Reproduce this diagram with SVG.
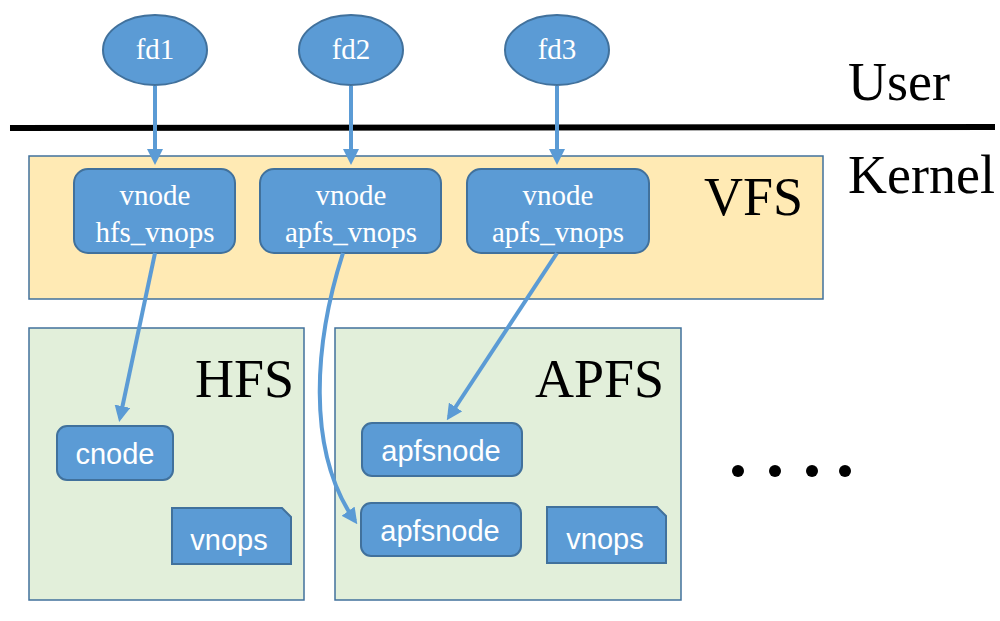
<svg xmlns="http://www.w3.org/2000/svg" width="1000" height="621" viewBox="0 0 1000 621">
<defs>
<marker id="ah" markerWidth="4" markerHeight="4" refX="3" refY="2" orient="auto" markerUnits="strokeWidth">
<path d="M0,0 L4,2 L0,4 Z" fill="#5B9BD5"/>
</marker>
<style>
.node{fill:#5B9BD5;stroke:#41719C;stroke-width:2}
.serif{font-family:"Liberation Serif","Times New Roman",serif;fill:#fff;text-anchor:middle;font-size:29px}
.sans{font-family:"Liberation Sans",Arial,sans-serif;fill:#fff;text-anchor:middle;font-size:29px}
.big{font-family:"Liberation Serif","Times New Roman",serif;fill:#000;font-size:54px}
.conn{fill:none;stroke:#5B9BD5;stroke-width:4;marker-end:url(#ah)}
</style>
</defs>
<rect width="1000" height="621" fill="#fff"/>
<g id="user-label"><text class="big" x="848" y="100">User</text></g>
<g id="kernel-label"><text class="big" x="848" y="193">Kernel</text></g>
<line x1="10" y1="128" x2="995" y2="127" stroke="#000" stroke-width="6"/>
<g id="vfs">
<rect x="29" y="156" width="794" height="143" fill="#FFEAB4" stroke="#41719C" stroke-width="1.5"/>
<text class="big" x="704" y="215" font-size="56">VFS</text>
</g>
<g id="hfs">
<rect x="29" y="328" width="275" height="272" fill="#E2EFDA" stroke="#41719C" stroke-width="1.5"/>
<text class="big" x="195" y="397">HFS</text>
</g>
<g id="apfs">
<rect x="335" y="328" width="346" height="272" fill="#E2EFDA" stroke="#41719C" stroke-width="1.5"/>
<text class="big" x="535" y="397">APFS</text>
</g>
<g id="fd1"><ellipse class="node" cx="155" cy="50" rx="52" ry="35"/><text class="serif" x="155" y="59" font-size="28">fd1</text></g>
<g id="fd2"><ellipse class="node" cx="351" cy="50" rx="52" ry="35"/><text class="serif" x="351" y="59" font-size="28">fd2</text></g>
<g id="fd3"><ellipse class="node" cx="557" cy="50" rx="52" ry="35"/><text class="serif" x="557" y="59" font-size="28">fd3</text></g>
<g id="vnode1"><rect class="node" x="74" y="169" width="161" height="84" rx="14"/><text class="serif" x="155" y="205">vnode</text><text class="serif" x="155" y="242">hfs_vnops</text></g>
<g id="vnode2"><rect class="node" x="260" y="169" width="181" height="84" rx="14"/><text class="serif" x="351" y="205">vnode</text><text class="serif" x="351" y="242">apfs_vnops</text></g>
<g id="vnode3"><rect class="node" x="467" y="169" width="182" height="84" rx="14"/><text class="serif" x="558" y="205">vnode</text><text class="serif" x="558" y="242">apfs_vnops</text></g>
<g id="cnode"><rect class="node" x="57" y="426" width="116" height="54" rx="10"/><text class="sans" x="115" y="464">cnode</text></g>
<g id="hfs-vnops"><path class="node" d="M172,508 H282 L291,517 V564 H172 Z"/><text class="sans" x="229" y="550">vnops</text></g>
<g id="apfsnode1"><rect class="node" x="362" y="423" width="160" height="53" rx="10"/><text class="sans" x="441" y="461">apfsnode</text></g>
<g id="apfsnode2"><rect class="node" x="361" y="503" width="160" height="53" rx="10"/><text class="sans" x="440" y="541">apfsnode</text></g>
<g id="apfs-vnops"><path class="node" d="M547,507 H657 L666,516 V563 H547 Z"/><text class="sans" x="605" y="549">vnops</text></g>
<g id="dots" fill="#000">
<circle cx="738" cy="471" r="6"/><circle cx="775" cy="471" r="6"/><circle cx="812" cy="471" r="6"/><circle cx="845" cy="471" r="6"/>
</g>
<g id="connectors">
<path class="conn" d="M155,86 V161"/>
<path class="conn" d="M351,86 V161"/>
<path class="conn" d="M557,86 V161"/>
<path class="conn" d="M155,253 L120,418"/>
<path class="conn" d="M343,253 C315,340 305,450 355,521"/>
<path class="conn" d="M557,253 L449,417"/>
</g>
</svg>
